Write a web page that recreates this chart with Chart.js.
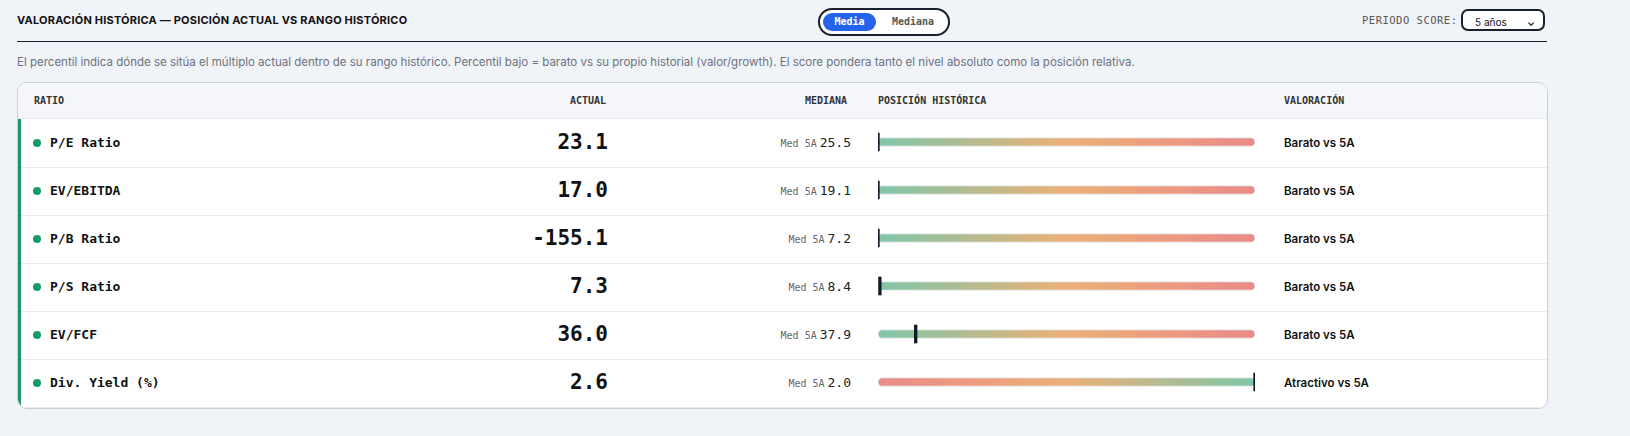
<!DOCTYPE html>
<html><head><meta charset="utf-8">
<script src="https://cdn.jsdelivr.net/npm/chart.js@4"></script>
<style>
body{margin:0;background:#f0f3f7;font-family:Inter,sans-serif;color:#111;width:1630px;height:436px;overflow:hidden;position:relative}
.mono{font-family:"DejaVu Sans Mono",monospace}
#title{position:absolute;left:17px;top:13px;font-size:11px;font-weight:700;letter-spacing:.2px}
#toggle{position:absolute;left:818px;top:8px;width:128px;height:24px;border:2px solid #1a1f2e;border-radius:14px;background:#fff}
#toggle .on{position:absolute;left:3px;top:3px;width:53px;height:18px;border-radius:9px;background:#2563eb;color:#fff;font-size:10px;font-weight:700;text-align:center;line-height:18px}
#toggle .off{position:absolute;left:72px;top:3px;font-size:10px;line-height:18px;color:#555;font-weight:700}
#periodo{position:absolute;left:1362px;top:14px;font-size:10.5px;color:#555;letter-spacing:.5px}
#select{position:absolute;left:1461px;top:9px;width:84px;height:22px;border:2px solid #1a1f2e;border-radius:7px;background:#fff;font-size:10px;line-height:22px;padding-left:12px;box-sizing:border-box}
#select span{position:absolute;right:8px;top:0;font-weight:700}
#rule{position:absolute;left:17px;top:41px;width:1530px;height:1px;background:#1a1f2e}
#note{position:absolute;left:17px;top:55px;font-size:11.5px;color:#6b7280}
#table{position:absolute;left:17px;top:82px;width:1529px;height:325px;border:1px solid #c9ced6;border-radius:10px;background:#fff;overflow:hidden}
#head{position:absolute;left:0;top:0;width:100%;height:35px;background:#f4f6f9;border-bottom:1px solid #e3e6ea;font-size:10px;font-weight:700;color:#333}
#head div{position:absolute;top:12px}
.row{position:absolute;left:0;width:100%;height:48px;border-bottom:1px solid #ececec}
.row .bar{position:absolute;left:0;top:0;width:3px;height:100%;background:#1a9a63}
.dot{position:absolute;left:15px;top:20px;width:8px;height:8px;border-radius:4px;background:#1a9a63}
.name{position:absolute;left:32px;top:16px;font-size:13px;font-weight:700}
.act{position:absolute;right:939px;top:11px;font-size:21px;font-weight:700}
.med{position:absolute;right:696px;top:16px;font-size:13px;color:#222}
.med small{font-size:10px;color:#666;margin-right:3px}
.val{position:absolute;left:1266px;top:17px;font-size:11.5px;font-weight:600}
#wrap{position:absolute;left:874px;top:118px;width:385px;height:288px}
</style></head><body>
<div id="title">VALORACIÓN HISTÓRICA — POSICIÓN ACTUAL VS RANGO HISTÓRICO</div>
<div id="toggle" class="mono"><div class="on">Media</div><div class="off">Mediana</div></div>
<div id="periodo" class="mono">PERIODO SCORE:</div>
<div id="select">5 años<span>&#8964;</span></div>
<div id="rule"></div>
<div id="note">El percentil indica dónde se sitúa el múltiplo actual dentro de su rango histórico. Percentil bajo = barato vs su propio historial (valor/growth). El score pondera tanto el nivel absoluto como la posición relativa.</div>
<div id="table">
  <div id="head" class="mono"><div style="left:16px">RATIO</div><div style="left:552px">ACTUAL</div><div style="left:787px">MEDIANA</div><div style="left:860px">POSICIÓN HISTÓRICA</div><div style="left:1266px">VALORACIÓN</div></div>
  <div id="rows"></div>
</div>
<div id="wrap"><canvas id="chart"></canvas></div>
<script>
const ratios=["P/E Ratio","EV/EBITDA","P/B Ratio","P/S Ratio","EV/FCF","Div. Yield (%)"];
const actual=["23.1","17.0","-155.1","7.3","36.0","2.6"];
const median5y=["25.5","19.1","7.2","8.4","37.9","2.0"];
const percentile=[0,0,0,0.5,10,100];
const reversed=[false,false,false,false,false,true];
const verdict=["Barato vs 5A","Barato vs 5A","Barato vs 5A","Barato vs 5A","Barato vs 5A","Atractivo vs 5A"];

const rows=document.getElementById("rows");
ratios.forEach((r,i)=>{
  const d=document.createElement("div");
  d.className="row";d.style.top=(36+i*48)+"px";
  d.innerHTML=`<div class="bar"></div><div class="dot"></div><div class="name mono">${r}</div>
  <div class="act mono">${actual[i]}</div><div class="med mono"><small>Med 5A</small>${median5y[i]}</div>
  <div class="val">${verdict[i]}</div>`;
  rows.appendChild(d);
});

function grad(c,i){
  const a=c.chart.chartArea;if(!a)return "#ecb077";
  const g=c.chart.ctx.createLinearGradient(a.left,0,a.right,0);
  const cols=reversed[i]?["#ea8a88","#ecb077","#7fc6a8"]:["#7fc6a8","#ecb077","#ea8a88"];
  g.addColorStop(0,cols[0]);g.addColorStop(0.5,cols[1]);g.addColorStop(1,cols[2]);
  return g;
}

new Chart(document.getElementById("chart"),{
  type:"bar",
  data:{labels:ratios,datasets:[
    {data:percentile.map(p=>[p-0.35,p+0.35]),backgroundColor:"#111827",barThickness:18,grouped:false,order:0},
    {data:ratios.map(()=>[0,100]),backgroundColor:c=>grad(c,c.dataIndex),borderColor:"#e3e6ea",borderWidth:1,borderSkipped:false,borderRadius:5,barThickness:9,grouped:false,order:1}
  ]},
  options:{indexAxis:"y",responsive:true,maintainAspectRatio:false,animation:false,
    layout:{padding:{left:4,right:4,top:0,bottom:0}},
    plugins:{legend:{display:false},tooltip:{enabled:false}},
    scales:{x:{min:0,max:100,display:false},y:{display:false}}}
});
</script>
</body></html>
